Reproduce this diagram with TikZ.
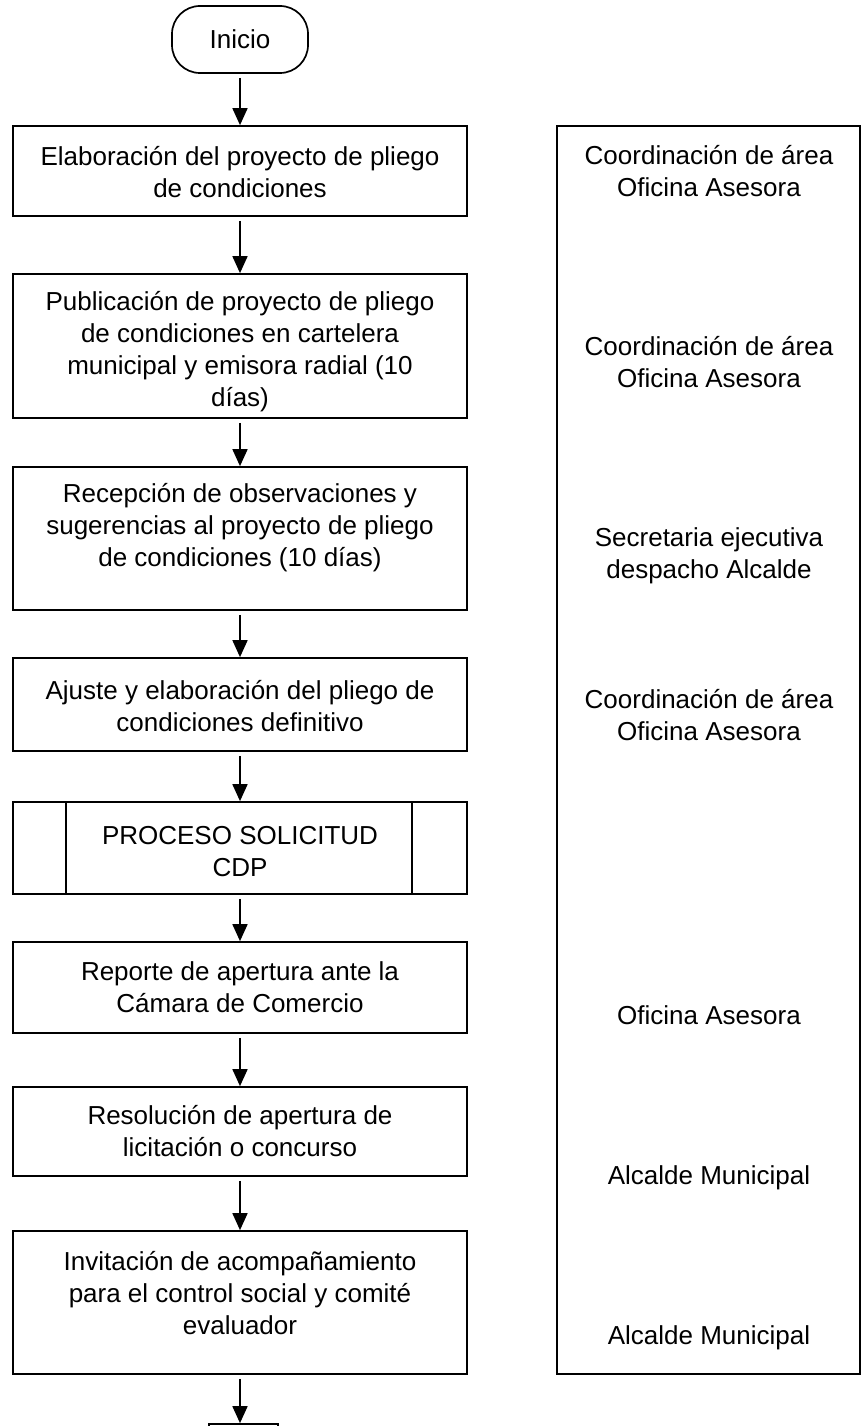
\documentclass[tikz,border=0pt]{standalone}
\usepackage{fontspec}
\setmainfont{Liberation Sans}
\usetikzlibrary{arrows.meta}
\begin{document}
\begin{tikzpicture}[x=1pt,y=-1pt,
  stepbox/.style={draw, line width=1.7pt, minimum width=454pt, inner sep=0pt},
  txt/.style={align=center, inner sep=0pt, font=\fontsize{26}{32}\selectfont},
  arr/.style={line width=1.7pt, -{Triangle[width=15pt,length=17pt]}, shorten <=4pt},
  term/.style={draw, line width=1.7pt, rounded corners=28pt, minimum width=136pt, minimum height=67pt, inner sep=0pt, font=\fontsize{26}{32}\selectfont}]
\useasboundingbox (0,0) rectangle (862,1426);
\fill[white] (0,0) rectangle (862,1426);
\clip (0,0) rectangle (862,1426);

% start
\node[term] (ini) at (240,39.5) {Inicio};

% boxes
\node[stepbox, minimum height=90pt] (b1) at (240,171) {};
\node[txt] (t1) at (240,172) {Elaboración del proyecto de pliego\\de condiciones};

\node[stepbox, minimum height=144pt] (b2) at (240,346) {};
\node[txt] (t2) at (240,352) {Publicación de proyecto de pliego\\de condiciones en cartelera\\municipal y emisora radial (10\\días)};

\node[stepbox, minimum height=143pt] (b3) at (240,538.5) {};
\node[txt] (t3) at (240,528) {Recepción de observaciones y\\sugerencias al proyecto de pliego\\de condiciones (10 días)};

\node[stepbox, minimum height=93pt] (b4) at (240,704.5) {};
\node[txt] (t4) at (240,706) {Ajuste y elaboración del pliego de\\condiciones definitivo};

\node[stepbox, minimum height=92pt] (b5) at (240,848) {};
\node[txt] (t5) at (240,852) {PROCESO SOLICITUD\\CDP};
\draw[line width=1.7pt] ([xshift=54pt]b5.north west) -- ([xshift=54pt]b5.south west);
\draw[line width=1.7pt] ([xshift=-56pt]b5.north east) -- ([xshift=-56pt]b5.south east);

\node[stepbox, minimum height=91pt] (b6) at (240,987.5) {};
\node[txt] (t6) at (240,987) {Reporte de apertura ante la\\Cámara de Comercio};

\node[stepbox, minimum height=89pt] (b7) at (240,1131.5) {};
\node[txt] (t7) at (240,1131) {Resolución de apertura de\\licitación o concurso};

\node[stepbox, minimum height=143pt] (b8) at (240,1302.5) {};
\node[txt] (t8) at (240,1293) {Invitación de acompañamiento\\para el control social y comité\\evaluador};

\node[draw, line width=1.7pt, minimum width=69pt, minimum height=40pt, inner sep=0pt] (b9) at (243.5,1444) {};

% arrows
\draw[arr] (ini) -- (b1);
\draw[arr] (b1) -- (b2);
\draw[arr] (b2) -- (b3);
\draw[arr] (b3) -- (b4);
\draw[arr] (b4) -- (b5);
\draw[arr] (b5) -- (b6);
\draw[arr] (b6) -- (b7);
\draw[arr] (b7) -- (b8);
\draw[arr] (b8.south) -- (b8.south |- b9.north);

% responsibles column
\node[draw, line width=1.7pt, minimum width=303pt, minimum height=1248pt, inner sep=0pt] (col) at (708.5,750) {};
\node[txt] (r1) at (709,171) {Coordinación de área\\Oficina Asesora};
\node[txt] (r2) at (709,362) {Coordinación de área\\Oficina Asesora};
\node[txt] (r3) at (709,556) {Secretaria ejecutiva\\despacho Alcalde};
\node[txt] (r4) at (709,715) {Coordinación de área\\Oficina Asesora};
\node[txt] (r5) at (709,1015) {Oficina Asesora};
\node[txt] (r6) at (709,1178) {Alcalde Municipal};
\node[txt] (r7) at (709,1338) {Alcalde Municipal};
\end{tikzpicture}
\end{document}
